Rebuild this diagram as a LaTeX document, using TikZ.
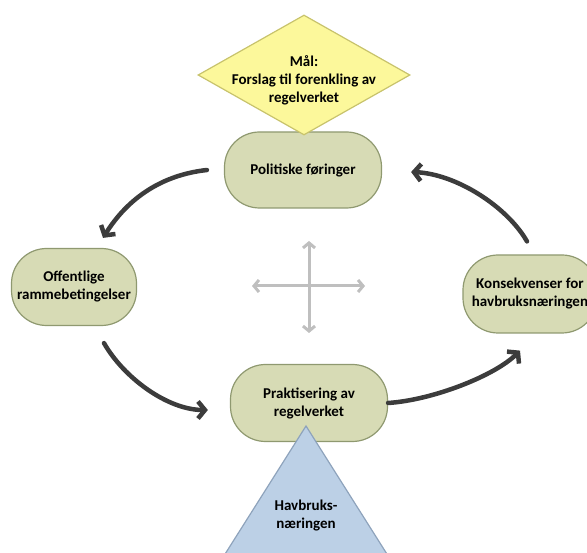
\documentclass[tikz,border=0pt]{standalone}
\usepackage{fontspec}
\setmainfont{Carlito}
\usetikzlibrary{arrows.meta,shapes.geometric}
\definecolor{boxgreen}{HTML}{D7DBB5}
\definecolor{edgegreen}{HTML}{8F9970}
\definecolor{goalyellow}{HTML}{FCF89B}
\definecolor{goaledge}{HTML}{C8C36C}
\definecolor{baseblue}{HTML}{BCD0E6}
\definecolor{baseedge}{HTML}{8EA3BC}
\definecolor{arrowgray}{HTML}{3C3C3C}
\definecolor{crossgray}{HTML}{BFBFBF}

\begin{document}
\begin{tikzpicture}[x=1pt,y=-1pt,
		font=\fontsize{15}{18}\selectfont\bfseries,
		stage/.style={draw=edgegreen, fill=boxgreen, line width=1.2pt, rounded corners=35pt,
			align=center, minimum width=157pt, minimum height=76pt, inner sep=0pt},
		goal/.style={draw=goaledge, fill=goalyellow, line width=1.2pt, shape=diamond,
			minimum width=212pt, minimum height=120pt, inner sep=0pt},
		base/.style={draw=baseedge, fill=baseblue, line width=1.2pt},
		cyc/.style={draw=arrowgray, line width=4.5pt, line cap=round,
			-{Straight Barb[length=7pt,width=17pt]}},
		cross/.style={draw=crossgray, line width=3pt,
			-{Straight Barb[length=5pt,width=12pt]}}]
	\useasboundingbox (0,0) rectangle (587,553);
	\clip (0,0) rectangle (587,553);

	% the four stages
	\node[stage] (pol) at (303,170) {Politiske føringer};
	\node[stage, minimum width=125pt, minimum height=77pt] (off) at (74,287) {Offentlige\\rammebetingelser};
	\node[stage, minimum width=134pt, minimum height=78pt] (kon) at (530,294) {Konsekvenser for\\havbruksnæringen};
	\node[stage, minimum height=77pt] (prak) at (309,403) {Praktisering av\\regelverket};

	% goal on top
	\node[goal] (goal) at (304,75) {};
	\node[align=center] (goaltext) at (304,80) {Mål:\\Forslag til forenkling av\\regelverket};

	% the industry at the base
	\coordinate (apex) at (306,426);
	\draw[base] (apex) -- +(-110,174) -- +(110,174) -- cycle;
	\node[align=center] (basetext) at (306,516) {Havbruks-\\næringen};

	% cross in the middle
	\coordinate (hub) at (309,286);
	\foreach \dx/\dy in {-57/0,56/0,0/-45,0/47}
	{
		\draw[cross] (hub) -- +(\dx,\dy);
	}

	% the cycle
	\draw[cyc] ([shift={(-17,0)}]pol.west) .. controls +(-45,5) and +(25,-40) .. ([shift={(29,-10)}]off.north);
	\draw[cyc] ([shift={(30,17)}]off.south) .. controls +(20,35) and +(-40,0) .. ([shift={(-22,7)}]prak.west);
	\draw[cyc] (prak.east) .. controls +(45,-3) and +(-25,25) .. ([shift={(-10,17)}]kon.south);
	\draw[cyc] ([shift={(-3,-13)}]kon.north) .. controls +(-20,-35) and +(45,2) .. ([shift={(29,2)}]pol.east);
\end{tikzpicture}
\end{document}
